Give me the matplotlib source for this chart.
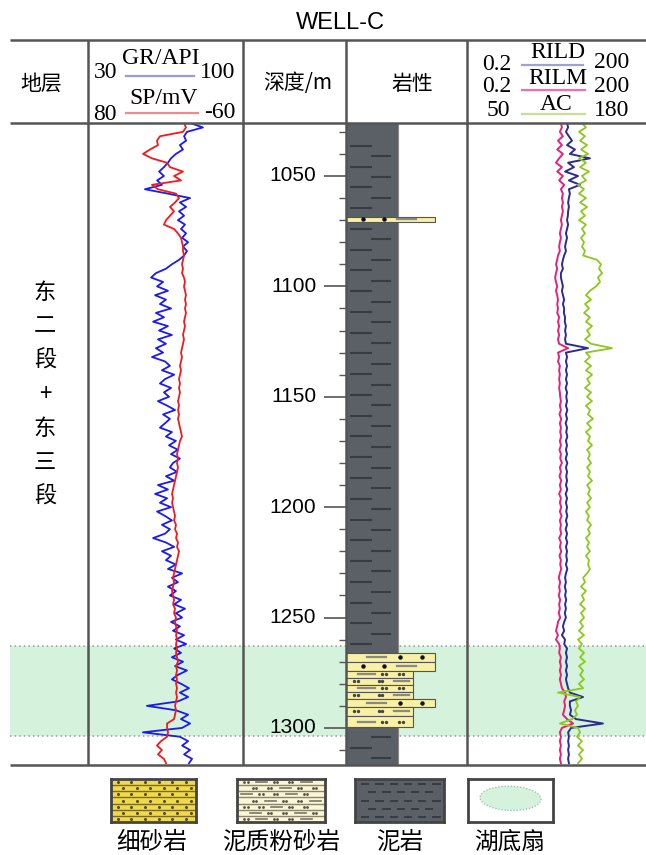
#!/usr/bin/env python3
""" Well log panel for WELL-C """
import numpy as np
import matplotlib.pyplot as plt
from matplotlib.patches import Ellipse

CJK = ['Noto Sans CJK SC', 'DejaVu Sans']
SERIF = 'Liberation Serif'
SANS = 'Liberation Sans'

# log sampling depth (m)
DEPTH = np.arange(1026, 1317, 2)
DEPTH_TOP, DEPTH_BOT = 1026.0, 1316.8

GR = [76.1, 81.9, 74.7, 73.4, 74.3, 71.5, 72.9, 69.7, 67.5, 66.1,
      64.3, 62.1, 64.3, 61.2, 63.4, 55.7, 66.1, 76.1, 71.5, 74.3,
      71.1, 73.4, 70.6, 73.8, 72.0, 74.3, 72.5, 75.2, 72.9, 74.7,
      73.4, 71.1, 67.9, 65.2, 60.7, 58.5, 63.9, 61.2, 66.1, 60.3,
      65.2, 62.5, 67.5, 60.7, 64.3, 59.4, 66.1, 62.1, 67.9, 61.6,
      65.2, 60.7, 63.9, 58.9, 64.8, 67.0, 63.4, 68.9, 64.8, 62.5,
      67.5, 64.3, 66.6, 61.6, 65.7, 69.3, 63.9, 67.0, 64.8, 62.5,
      67.9, 65.2, 69.7, 66.6, 70.6, 67.5, 71.5, 68.4, 67.0, 70.2,
      65.2, 68.9, 61.6, 66.1, 60.3, 65.7, 62.5, 67.5, 61.2, 64.8,
      67.9, 63.4, 67.0, 64.8, 59.4, 65.2, 68.9, 63.4, 67.5, 65.2,
      69.7, 66.1, 72.5, 67.9, 70.6, 66.1, 69.7, 67.0, 72.0, 68.9,
      73.8, 69.7, 72.5, 67.5, 71.5, 68.4, 73.4, 69.7, 74.3, 68.9,
      72.0, 67.9, 72.9, 69.3, 74.7, 70.6, 67.9, 72.0, 75.6, 71.5,
      75.2, 70.6, 56.6, 69.7, 75.2, 72.0, 76.1, 72.5, 54.8, 71.5,
      75.2, 72.5, 76.1, 73.4, 77.0, 75.6]

SP = [-6.7, -8.5, -5.8, 15.0, 17.7, 16.8, 24.0, 30.3, 22.2, 8.6,
      5.9, -5.8, 2.3, -4.0, 22.2, 16.8, 0.5, -2.2, 1.4, 5.9,
      2.3, 5.9, 9.5, 11.4, 2.3, -1.3, -4.0, -4.9, -5.8, -5.8,
      -6.7, -5.8, -4.9, -5.8, -4.9, -6.7, -7.6, -6.7, -7.6, -8.5,
      -7.6, -8.5, -7.6, -8.5, -7.6, -6.7, -7.6, -6.7, -5.8, -6.7,
      -5.8, -4.9, -4.0, -4.9, -4.0, -3.1, -4.0, -3.1, -2.2, -3.1,
      -2.2, -3.1, -2.2, -1.3, -2.2, -1.3, -2.2, -1.3, -2.2, -3.1,
      -4.0, -4.9, -3.1, -2.2, -1.3, -0.4, -1.3, -0.4, -1.3, -0.4,
      0.5, 1.4, 2.3, 3.2, 4.1, 3.2, 4.1, 3.2, 2.3, 1.4,
      2.3, 0.5, 1.4, -0.4, 0.5, -1.3, -0.4, -2.2, -1.3, -0.4,
      0.5, 1.4, 2.3, 3.2, 2.3, 3.2, 4.1, 3.2, 2.3, 3.2,
      1.4, 2.3, 0.5, 1.4, 0.5, -0.4, 0.5, -0.4, 0.5, -0.4,
      0.5, -0.4, -1.3, 0.5, -0.4, 0.5, -0.4, 0.5, -0.4, 0.5,
      -0.4, 0.5, 1.4, 0.5, 1.4, 2.3, 8.6, 8.6, 7.7, 8.6,
      14.1, 17.7, 13.2, 16.8, 11.4, 9.5]

RILM = [7.5, 7.8, 7.2, 8.1, 6.7, 7.8, 6.5, 8.1, 7.0, 6.2,
        7.8, 6.5, 8.1, 7.0, 8.5, 7.5, 8.1, 7.8, 8.1, 7.8,
        8.1, 7.8, 7.5, 7.8, 7.5, 7.2, 7.5, 7.2, 7.0, 7.2,
        6.7, 6.5, 6.2, 6.5, 6.2, 6.0, 6.2, 6.5, 6.2, 6.5,
        6.7, 6.5, 6.7, 6.5, 7.0, 6.7, 7.0, 6.7, 7.0, 6.7,
        7.0, 9.9, 6.7, 7.0, 6.7, 7.2, 7.0, 7.2, 7.0, 7.2,
        7.0, 7.2, 7.3, 7.5, 7.2, 7.5, 7.1, 7.6, 7.2, 7.5,
        7.3, 7.6, 7.2, 7.5, 7.1, 7.5, 7.3, 7.8, 7.2, 7.5,
        7.1, 7.6, 7.2, 7.5, 7.0, 7.5, 7.2, 7.6, 7.2, 7.7,
        7.2, 7.5, 7.3, 7.6, 7.0, 7.5, 7.2, 7.6, 7.1, 7.5,
        7.3, 7.6, 7.2, 6.9, 7.3, 7.0, 7.2, 6.9, 7.3, 7.0,
        7.2, 6.9, 7.3, 6.7, 6.5, 6.2, 6.7, 6.2, 7.0, 7.2,
        7.0, 7.5, 7.2, 7.5, 7.2, 7.5, 7.2, 7.5, 7.8, 8.8,
        9.1, 8.5, 8.8, 8.5, 8.1, 9.5, 12.0, 7.8, 7.2, 7.5,
        7.2, 7.5, 7.2, 7.5, 7.2, 7.5]

RILD = [9.5, 9.9, 9.1, 10.2, 11.5, 9.5, 12.9, 10.6, 23.0, 9.9,
        12.4, 8.8, 14.5, 10.2, 15.7, 10.2, 10.6, 10.2, 9.9, 10.2,
        9.9, 9.8, 9.5, 9.9, 9.5, 9.1, 9.5, 9.1, 8.8, 9.1,
        8.5, 8.1, 7.8, 8.1, 7.5, 7.5, 7.8, 8.1, 7.8, 8.1,
        8.5, 8.1, 8.5, 8.4, 8.8, 8.7, 9.1, 8.8, 9.1, 8.8,
        9.1, 21.3, 9.1, 9.5, 9.1, 9.5, 9.1, 9.5, 9.1, 9.5,
        9.0, 9.5, 9.2, 9.5, 9.1, 9.6, 9.1, 9.5, 9.0, 9.5,
        9.2, 9.6, 9.1, 9.5, 9.1, 9.5, 9.0, 9.6, 9.1, 9.5,
        9.2, 9.5, 9.1, 9.6, 9.0, 9.5, 9.1, 9.5, 9.2, 9.6,
        9.1, 9.5, 9.0, 9.5, 9.1, 9.6, 9.1, 9.5, 9.2, 9.5,
        9.1, 9.6, 9.1, 8.8, 9.1, 8.7, 9.1, 8.8, 9.2, 8.8,
        9.1, 8.7, 9.1, 8.5, 8.1, 8.5, 7.8, 8.8, 8.5, 9.5,
        9.1, 9.5, 9.1, 9.5, 9.1, 9.5, 9.1, 9.5, 9.9, 10.6,
        17.6, 10.6, 10.6, 11.1, 10.6, 13.4, 38.0, 11.1, 9.9, 10.2,
        9.9, 10.2, 9.9, 10.2, 9.9, 10.2]

AC = [133.5, 136.4, 131.3, 135.7, 132.1, 137.2, 132.8, 137.9, 131.3, 136.4,
      132.1, 138.6, 133.5, 136.4, 130.6, 135.0, 131.3, 136.4, 132.1, 137.2,
      132.8, 135.7, 131.3, 136.4, 133.5, 135.7, 132.8, 135.0, 133.5, 135.7,
      134.3, 144.4, 147.3, 145.9, 148.1, 145.1, 146.6, 143.7, 139.3, 136.4,
      140.1, 135.7, 138.6, 135.0, 139.3, 136.4, 140.8, 137.2, 139.3, 135.7,
      140.1, 155.3, 136.4, 139.3, 135.7, 140.1, 136.4, 140.8, 137.2, 139.3,
      135.7, 140.1, 137.2, 140.8, 136.4, 139.3, 137.9, 141.5, 137.2, 140.1,
      136.4, 139.3, 137.9, 140.8, 137.2, 139.3, 137.9, 140.1, 137.2, 139.3,
      137.9, 140.8, 137.2, 139.3, 137.9, 140.1, 137.2, 139.3, 136.4, 138.6,
      137.2, 140.1, 137.9, 139.3, 136.4, 138.6, 137.2, 139.3, 136.4, 138.6,
      137.9, 139.3, 137.2, 134.3, 135.7, 132.8, 136.4, 133.5, 135.0, 132.1,
      135.7, 132.8, 135.0, 132.1, 134.3, 131.3, 135.0, 130.6, 133.5, 131.3,
      135.0, 132.1, 135.7, 131.3, 134.3, 132.1, 135.0, 131.3, 134.3, 116.1,
      132.1, 129.2, 130.6, 128.4, 129.9, 126.3, 117.5, 130.6, 132.1, 129.9,
      133.5, 130.6, 134.3, 131.3, 133.5, 130.6]

# lithology beds inside the mudstone column
BED_TOP = [1068.6, 1266.0, 1270.1, 1274.2, 1277.4, 1280.5, 1283.7, 1286.9, 1290.5, 1294.6]
BED_BOT = [1070.8, 1270.1, 1274.2, 1277.4, 1280.5, 1283.7, 1286.9, 1290.5, 1294.6, 1299.6]
BED_KIND = ['sand', 'sand', 'sand', 'silt', 'silt', 'silt', 'silt', 'sand', 'silt', 'silt']

# sublacustrine fan interval
FAN_TOP, FAN_BOT = 1262.9, 1303.6

DEPTH_LABELS = [1050, 1100, 1150, 1200, 1250, 1300]
UNIT_NAME = ['东', '二', '段', '+', '东', '三', '段']
LEGEND_NAMES = ['细砂岩', '泥质粉砂岩', '泥岩', '湖底扇']

W, H = 646, 855
LINE = '#555555'
MUD = '#5b5f66'
MUD_DASH = '#383b40'
BED_FILL = '#f8f0a6'

fig = plt.figure(figsize=(W / 100, H / 100), dpi=100)


def place(x0, y0, x1, y1, z=1):
    ax = fig.add_axes([x0 / W, 1 - y1 / H, (x1 - x0) / W, (y1 - y0) / H], zorder=z)
    ax.patch.set_alpha(0)
    return ax


def depth_track(x0, x1, z=1):
    ax = place(x0, 123, x1, 765, z)
    ax.set_ylim(DEPTH_BOT, DEPTH_TOP)
    return ax


# green fan band behind all tracks
band = depth_track(10, 646, z=0)
band.axhspan(FAN_TOP, FAN_BOT, color='#d5f2dd', lw=0)
for d in (FAN_TOP, FAN_BOT):
    band.axhline(d, color='#9a9a9a', ls=(0, (1, 2)), lw=1.1)
band.axis('off')

# GR / SP track
gr_ax = depth_track(88, 243)
gr_ax.plot(GR, DEPTH, color='#1a1af2', lw=1.3)
gr_ax.set_xlim(30, 100)
gr_ax.axis('off')
sp_ax = gr_ax.twiny()
sp_ax.plot(SP, DEPTH, color='#f21a1a', lw=1.3)
sp_ax.set_xlim(80, -60)
sp_ax.axis('off')

# depth track
dep_ax = depth_track(243, 346)
dep_ax.yaxis.tick_right()
dep_ax.set_yticks(DEPTH_LABELS)
dep_ax.set_yticks(np.arange(1030, 1316, 10), minor=True)
dep_ax.tick_params(axis='y', which='major', direction='in', length=16, width=1.2,
                   color=LINE, labelright=False, labelleft=False, left=False)
dep_ax.tick_params(axis='y', which='minor', direction='in', length=5, width=1.0,
                   color=LINE, left=False)
dep_ax.set_xticks([])
for s in dep_ax.spines.values():
    s.set_visible(False)
for d in DEPTH_LABELS:
    dep_ax.text(0.71, d, str(d), transform=dep_ax.get_yaxis_transform(),
                ha='right', va='center', fontsize=15, family=SANS)

# lithology track
lith_ax = depth_track(346, 467)
lith_ax.set_xlim(0, 1)
lith_ax.barh(DEPTH_TOP, 0.43, height=DEPTH_BOT - DEPTH_TOP, left=0, align='edge',
             color=MUD, edgecolor='#888888', lw=0.8, zorder=1)
rows = np.arange(1036.4, DEPTH_BOT, 9.4)
lith_ax.hlines(rows, 0.035, 0.215, color=MUD_DASH, lw=1.5, zorder=2)
lith_ax.hlines(rows + 4.7, 0.21, 0.37, color=MUD_DASH, lw=1.5, zorder=2)
for k, (top, bot, kind) in enumerate(zip(BED_TOP, BED_BOT, BED_KIND)):
    width = 0.736 if kind == 'sand' else 0.554
    lith_ax.barh(top, width, height=bot - top, left=0, align='edge',
                 color=BED_FILL, edgecolor=LINE, lw=0.8, zorder=3)
    mid = (top + bot) / 2
    flip = k % 2 == 0
    if kind == 'sand':
        dots = [0.14, 0.31] if flip else [0.45, 0.63]
        dash = (0.42, 0.58) if flip else (0.17, 0.33)
        lith_ax.plot(dots, [mid, mid], ls='none', marker='o', ms=2.2, color='#111111', zorder=4)
    else:
        dots = [0.07, 0.10, 0.27, 0.30] if flip else [0.30, 0.33, 0.44, 0.47]
        dash = (0.40, 0.52) if flip else (0.10, 0.24)
        lith_ax.plot(dots, [mid] * 4, ls='none', marker='o', ms=1.4, color='#444444', zorder=4)
    lith_ax.plot(dash, [mid, mid], color='#8a8a80', lw=1.6, zorder=4)
lith_ax.axis('off')

# resistivity / acoustic track
res_ax = depth_track(467, 646)
res_ax.set_xscale('log')
res_ax.plot(RILM, DEPTH, color='#e8207c', lw=1.4)
res_ax.plot(RILD, DEPTH, color='#2c2c90', lw=1.4)
res_ax.set_xlim(0.2, 200)
res_ax.axis('off')
ac_ax = res_ax.twiny()
ac_ax.plot(AC, DEPTH, color='#8cc81e', lw=1.3)
ac_ax.set_xlim(50, 180)
ac_ax.axis('off')

# table frame and header
frame = fig.add_axes([0, 0, 1, 1], zorder=5)
frame.patch.set_alpha(0)
frame.set_xlim(0, W)
frame.set_ylim(H, 0)
frame.axis('off')
frame.hlines([40, 123, 765], 10, 646, color=LINE, lw=1.8)
frame.vlines([88, 243, 346, 467], 40, 765, color=LINE, lw=1.8)

frame.text(340, 23, 'WELL-C', fontsize=17, family=SANS, ha='center', va='center')
frame.text(41, 84, '地层', fontsize=15, family=CJK, ha='center', va='center')
frame.text(298, 83, '深度/m', fontsize=15, family=CJK, ha='center', va='center')
frame.text(412, 84, '岩性', fontsize=15, family=CJK, ha='center', va='center')

serif = dict(fontsize=17, family=SERIF, ha='center', va='center')
frame.text(106, 73, '30', **serif)
frame.text(161, 58, 'GR/API', **serif)
frame.text(218, 73, '100', **serif)
frame.plot([126, 194], [76, 76], color='#9a9ae0', lw=1.6)
frame.text(105, 114, '80', **serif)
frame.text(164, 99, 'SP/mV', **serif)
frame.text(220, 112, '-60', **serif)
frame.plot([126, 198], [113, 113], color='#f08a8a', lw=1.6)

frame.text(497, 64, '0.2', **serif)
frame.text(558, 52, 'RILD', **serif)
frame.text(612, 63, '200', **serif)
frame.plot([522, 583], [65, 65], color='#a0a0d8', lw=1.6)
frame.text(497, 87, '0.2', **serif)
frame.text(558, 79, 'RILM', **serif)
frame.text(612, 86, '200', **serif)
frame.plot([522, 585], [90, 90], color='#f070ae', lw=1.6)
frame.text(498, 111, '50', **serif)
frame.text(556, 104, 'AC', **serif)
frame.text(612, 110, '180', **serif)
frame.plot([522, 585], [114, 114], color='#c8e092', lw=1.6)

for k, ch in enumerate(UNIT_NAME):
    frame.text(45, 292 + 34 * k, ch, fontsize=16, family=CJK, ha='center', va='center')

# legend
boxes = [(111, 196), (237, 325), (355, 444), (468, 553)]
leg = []
for x0, x1 in boxes:
    ax = place(x0, 779, x1, 822, z=6)
    ax.set_xlim(0, 1)
    ax.set_ylim(0, 1)
    ax.set_xticks([])
    ax.set_yticks([])
    for s in ax.spines.values():
        s.set_color('#444444')
        s.set_linewidth(2)
    leg.append(ax)

leg[0].patch.set_alpha(1)
leg[0].set_facecolor('#efd94e')
bands = np.linspace(0, 1, 8)
leg[0].hlines(bands[1:-1], 0, 1, color='#7a6a22', lw=1.0)
for j, (lo, hi) in enumerate(zip(bands[:-1], bands[1:])):
    xs = np.arange(0.08 + 0.06 * (j % 2), 0.95, 0.16)
    leg[0].plot(xs, np.full_like(xs, (lo + hi) / 2), ls='none', marker='o', ms=1.2, color='#5a4d10')

leg[1].patch.set_alpha(1)
leg[1].set_facecolor('#fbf6d6')
leg[1].hlines(bands[1:-1], 0, 1, color='#8a8570', lw=1.0)
for j, (lo, hi) in enumerate(zip(bands[:-1], bands[1:])):
    mid = (lo + hi) / 2
    start = 0.1 if j % 2 == 0 else 0.2
    for n, x in enumerate(np.arange(start, 0.92, 0.17)):
        if (n + j) % 3 == 1:
            leg[1].plot([x - 0.05, x + 0.07], [mid, mid], color='#777766', lw=1.2)
        else:
            leg[1].plot([x - 0.02, x + 0.02], [mid, mid], ls='none', marker='o', ms=1.0, color='#555544')

leg[2].patch.set_alpha(1)
leg[2].set_facecolor(MUD)
for j, y in enumerate(np.linspace(0.12, 0.88, 5)):
    for x in np.arange(0.08 + 0.08 * (j % 2), 0.95, 0.16):
        leg[2].plot([x, x + 0.07], [y, y], color=MUD_DASH, lw=1.4)

leg[3].patch.set_alpha(1)
leg[3].set_facecolor('white')
leg[3].add_patch(Ellipse((0.5, 0.55), 0.72, 0.56, angle=-8, facecolor='#d5f2dd',
                         edgecolor='#9ab8a0', ls=(0, (1, 1.5)), lw=0.9))

centers = [152, 281, 400, 510]
for cx, name in zip(centers, LEGEND_NAMES):
    frame.text(cx, 842, name, fontsize=17, family=CJK, ha='center', va='center')

plt.savefig('out.png', dpi=100)
